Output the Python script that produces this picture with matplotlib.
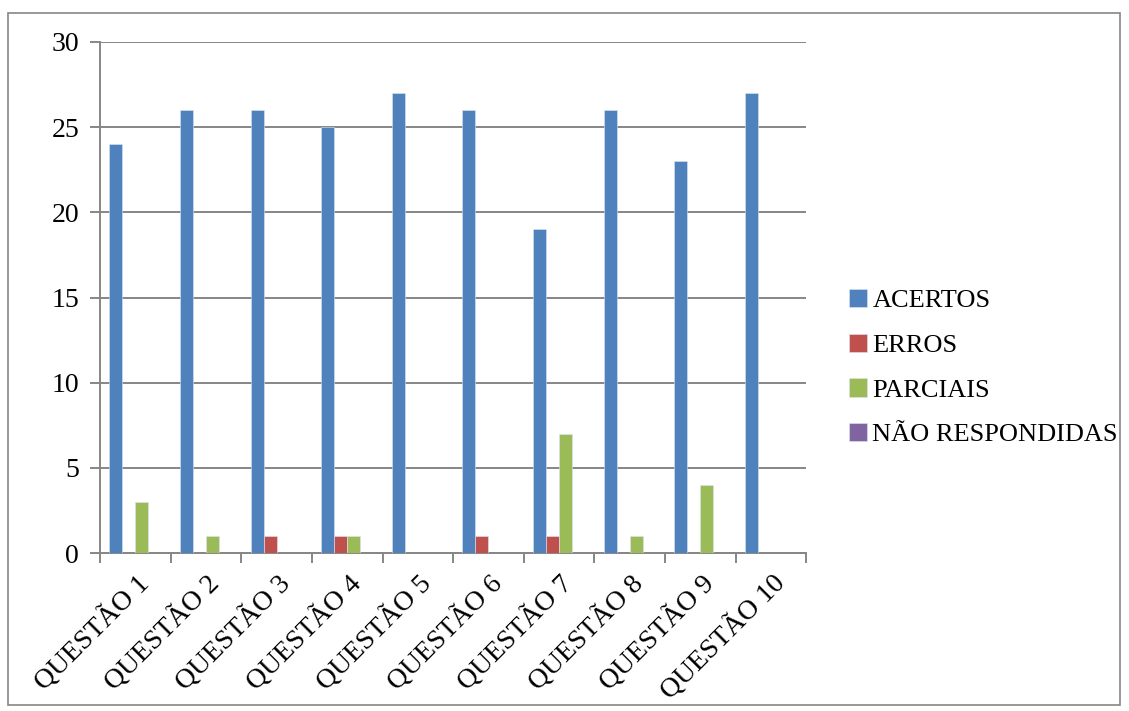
import matplotlib.pyplot as plt
import numpy as np
from matplotlib.patches import Rectangle

# Data
questoes = ["QUESTÃO 1", "QUESTÃO 2", "QUESTÃO 3", "QUESTÃO 4", "QUESTÃO 5",
            "QUESTÃO 6", "QUESTÃO 7", "QUESTÃO 8", "QUESTÃO 9", "QUESTÃO 10"]
acertos = [24, 26, 26, 25, 27, 26, 19, 26, 23, 27]
erros = [0, 0, 1, 1, 0, 1, 1, 0, 0, 0]
parciais = [3, 1, 0, 1, 0, 0, 7, 1, 4, 0]
nao_resp = [0, 0, 0, 0, 0, 0, 0, 0, 0, 0]

series = [("ACERTOS", acertos, "#4F81BD"),
          ("ERROS", erros, "#C0504D"),
          ("PARCIAIS", parciais, "#9BBB59"),
          ("NÃO RESPONDIDAS", nao_resp, "#8064A2")]

plt.rcParams['font.family'] = ['Liberation Serif', 'DejaVu Serif']

fig = plt.figure(figsize=(11.29, 7.11), dpi=100)
ax = fig.add_axes([0.0886, 0.222, 0.6255, 0.719])

# outer chart border
fig.patches.append(Rectangle((8 / 1129, 6 / 711), 1112 / 1129, 692 / 711,
                             transform=fig.transFigure, fill=False,
                             edgecolor="#868686", linewidth=1.2))

x = np.arange(len(questoes))
w = 0.184
for i, (name, vals, col) in enumerate(series):
    ax.bar(x + (i - 1.5) * w, vals, width=w, color=col, edgecolor="#dce6f2",
           linewidth=0.4, label=name, zorder=3)

ax.set_xlim(-0.5, len(questoes) - 0.5)
ax.set_ylim(0, 30)
ax.set_yticks(range(0, 31, 5))
ax.grid(axis="y", color="#868686", linewidth=1.4, zorder=0)

ax.set_xticks(x)
ax.set_xticklabels(questoes, rotation=45, ha="right", va="top",
                   rotation_mode="anchor", fontsize=20)
ax.set_xticks(np.arange(-0.5, len(questoes)), minor=True)
ax.tick_params(axis="x", which="major", length=0, pad=12)
ax.tick_params(axis="x", which="minor", length=7, width=1.4, color="#868686")
ax.tick_params(axis="y", length=7, width=1.4, color="#868686", labelsize=20, pad=8)

for s in ["top", "right"]:
    ax.spines[s].set_visible(False)
for s in ["left", "bottom"]:
    ax.spines[s].set_color("#868686")
    ax.spines[s].set_linewidth(1.4)

ax.legend(loc="center left", bbox_to_anchor=(1.045, 0.363), frameon=False,
          fontsize=19, handlelength=0.7, handleheight=0.7, handletextpad=0.2,
          labelspacing=0.8, borderaxespad=0)

fig.savefig("out.png", dpi=100)
